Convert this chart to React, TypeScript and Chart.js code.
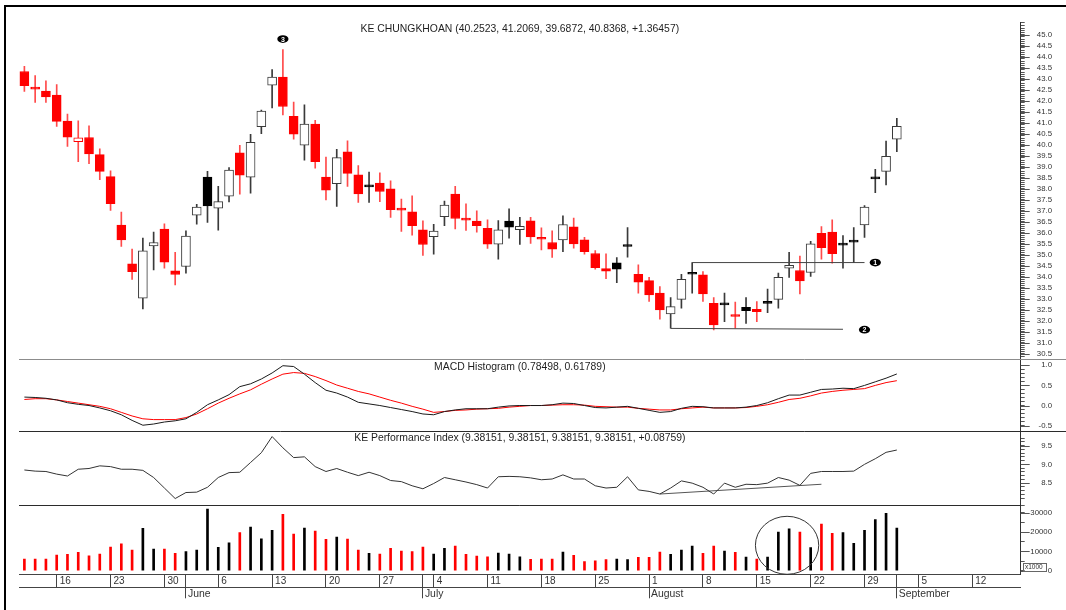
import React, { useEffect, useRef } from 'react';
import { Chart, registerables } from 'chart.js';

Chart.register(...registerables);

const FONT = '"Liberation Sans", Arial, Helvetica, sans-serif';
const RED = '#ff0000';

// ---- calendar (weekdays shown on the x axis) ----
const FIRST_DAY = '2011-05-11';
const LAST_DAY = '2011-09-16';
const MONTH_NAMES = ['January', 'February', 'March', 'April', 'May', 'June', 'July', 'August', 'September', 'October', 'November', 'December'];

// ---- price data (one value per trading day, 11 May .. 1 Sep 2011) ----
const opens = [
  43.33, 42.53, 42.44, 42.26, 41.08, 40.14, 40.33, 39.55, 38.55, 36.35,
  34.59, 33.03, 35.41, 36.17, 34.27, 34.47, 36.80, 38.53, 37.12, 37.67,
  39.64, 38.53, 40.82, 42.71, 43.08, 41.29, 39.98, 40.94, 38.53, 38.23,
  39.68, 38.64, 38.09, 38.26, 38.00, 37.03, 36.95, 36.14, 35.83, 36.73,
  37.76, 36.58, 36.53, 36.21, 35.48, 36.53, 36.14, 36.55, 35.71, 35.56,
  35.68, 36.27, 35.68, 35.06, 34.38, 34.64, 35.38, 34.12, 33.83, 33.26,
  32.32, 32.98, 34.12, 34.09, 32.80, 32.73, 32.20, 32.62, 32.53, 32.80,
  32.98, 34.39, 34.29, 34.20, 35.98, 36.03, 35.44, 35.58, 36.36, 38.45,
  38.79, 40.2523,
];
const highs = [
  43.56, 43.14, 42.91, 42.73, 41.39, 41.09, 40.86, 39.82, 38.82, 36.94,
  35.26, 35.76, 36.03, 36.41, 35.12, 36.09, 37.29, 38.79, 38.11, 38.97,
  39.97, 40.47, 41.58, 43.41, 44.32, 41.94, 41.82, 41.11, 39.44, 39.79,
  40.18, 39.06, 38.76, 38.73, 38.36, 37.53, 37.68, 36.55, 36.39, 37.44,
  38.11, 37.32, 37.00, 36.59, 36.56, 37.09, 36.71, 36.71, 36.23, 36.09,
  36.77, 36.67, 35.80, 35.20, 35.05, 34.88, 36.24, 34.55, 33.98, 33.56,
  33.06, 34.12, 34.65, 34.24, 33.06, 33.26, 32.85, 33.06, 32.88, 33.45,
  34.17, 35.12, 34.95, 35.61, 36.29, 36.59, 35.88, 36.24, 37.24, 38.89,
  40.17, 41.2069,
];
const lows = [
  42.42, 41.92, 41.92, 40.83, 39.92, 39.23, 39.14, 38.41, 37.02, 35.38,
  33.89, 32.55, 34.32, 34.39, 33.64, 34.17, 36.39, 36.47, 36.12, 37.41,
  37.76, 37.80, 40.50, 41.67, 41.36, 40.26, 39.30, 38.94, 37.50, 37.20,
  38.11, 37.38, 37.38, 37.42, 36.70, 36.06, 35.89, 34.97, 35.03, 36.33,
  36.18, 36.11, 36.03, 35.29, 34.80, 35.76, 35.47, 35.52, 35.23, 34.88,
  35.15, 35.30, 35.03, 34.35, 33.92, 33.74, 34.89, 33.26, 32.88, 32.08,
  31.67, 32.58, 33.26, 32.88, 31.59, 31.97, 31.67, 31.89, 31.97, 32.38,
  32.58, 33.98, 33.23, 34.02, 34.80, 34.62, 34.39, 34.65, 35.79, 37.83,
  38.18, 39.6872,
];
const closes = [
  42.68, 42.53, 42.17, 41.06, 40.35, 40.32, 39.59, 38.79, 37.33, 35.68,
  34.24, 35.18, 35.56, 34.67, 34.11, 35.85, 37.17, 37.22, 37.42, 38.85,
  38.62, 40.11, 41.53, 43.08, 41.74, 40.48, 40.94, 39.23, 37.94, 39.42,
  38.70, 37.77, 38.09, 37.88, 37.05, 37.03, 36.33, 35.47, 36.08, 37.26,
  36.65, 36.58, 36.33, 35.48, 36.14, 36.26, 36.30, 35.82, 35.71, 35.26,
  36.38, 35.50, 35.15, 34.42, 34.26, 34.35, 35.38, 33.76, 33.18, 32.50,
  32.65, 33.89, 34.12, 33.23, 31.82, 32.73, 32.20, 32.47, 32.42, 32.80,
  33.98, 34.53, 33.82, 35.50, 35.33, 35.05, 35.44, 35.58, 37.17, 38.45,
  39.47, 40.8368,
];
const volumes = [
  6000, 6000, 6000, 8100, 8450, 9500, 7750, 8600, 12240, 13960,
  10700, 21900, 11200, 11200, 8970, 9830, 10700, 31900, 12070, 14480,
  19660, 22590, 16550, 20860, 29140, 18970, 22070, 20520, 16210, 17410,
  16380, 10700, 8970, 8620, 11550, 10170, 9830, 12240, 8620, 11550,
  12760, 8450, 7590, 7240, 9140, 8620, 7240, 5860, 6030, 6030,
  9660, 7930, 4660, 5170, 5690, 6030, 5690, 6900, 6900, 9660,
  8450, 10700, 12760, 8970, 12760, 10170, 9480, 7070, 6030, 7070,
  20000, 21720, 20000, 11900, 24140, 19310, 19660, 14140, 20860, 26380,
  29660, 22070,
];
const macd = [
  0.21, 0.20, 0.18, 0.14, 0.07, 0.03, 0.00, -0.06, -0.13, -0.23,
  -0.37, -0.49, -0.46, -0.41, -0.38, -0.33, -0.17, 0.02, 0.14, 0.27,
  0.47, 0.54, 0.66, 0.81, 0.99, 0.97, 0.78, 0.57, 0.38, 0.31,
  0.21, 0.08, 0.04, 0.00, -0.05, -0.10, -0.15, -0.21, -0.23, -0.15,
  -0.11, -0.08, -0.08, -0.08, -0.04, -0.01, 0.00, 0.00, 0.00, 0.02,
  0.06, 0.05, 0.00, -0.05, -0.06, -0.04, -0.02, -0.07, -0.12, -0.17,
  -0.15, -0.07, -0.02, -0.03, -0.06, -0.06, -0.06, -0.04, 0.00, 0.07,
  0.17, 0.26, 0.26, 0.33, 0.40, 0.41, 0.43, 0.42, 0.50, 0.59,
  0.68, 0.78498,
];
const signal = [
  0.15, 0.17, 0.17, 0.14, 0.10, 0.06, 0.02, -0.02, -0.08, -0.17,
  -0.26, -0.33, -0.35, -0.35, -0.35, -0.30, -0.21, -0.08, 0.06, 0.18,
  0.29, 0.39, 0.53, 0.66, 0.78, 0.82, 0.80, 0.72, 0.62, 0.51,
  0.43, 0.35, 0.29, 0.21, 0.13, 0.06, -0.02, -0.09, -0.17, -0.15,
  -0.12, -0.11, -0.09, -0.08, -0.07, -0.04, -0.02, 0.00, 0.00, 0.01,
  0.02, 0.02, 0.01, -0.02, -0.03, -0.04, -0.04, -0.07, -0.09, -0.11,
  -0.11, -0.08, -0.06, -0.04, -0.06, -0.06, -0.06, -0.05, -0.02, 0.02,
  0.08, 0.15, 0.18, 0.24, 0.31, 0.35, 0.38, 0.40, 0.42, 0.50,
  0.57, 0.61789,
];
const perfIndex = [
  8.85, 8.82, 8.81, 8.74, 8.69, 8.87, 8.89, 8.96, 8.94, 8.87,
  8.87, 8.84, 8.65, 8.37, 8.09, 8.25, 8.26, 8.39, 8.65, 8.78,
  8.79, 9.05, 9.31, 9.74, 9.44, 9.18, 9.20, 8.94, 8.81, 8.89,
  8.79, 8.70, 8.79, 8.70, 8.57, 8.54, 8.43, 8.35, 8.49, 8.65,
  8.59, 8.53, 8.46, 8.37, 8.67, 8.68, 8.67, 8.64, 8.59, 8.61,
  8.72, 8.61, 8.61, 8.43, 8.37, 8.39, 8.67, 8.32, 8.28, 8.21,
  8.37, 8.56, 8.50, 8.39, 8.21, 8.50, 8.39, 8.47, 8.46, 8.50,
  8.65, 8.58, 8.44, 8.76, 8.81, 8.81, 8.81, 8.82, 9.00, 9.15,
  9.32, 9.38151,
];

// ---- drawn annotations: [day index, value] ----
const level1 = [[62, 34.65], [78, 34.65]];
const level2 = [[60, 31.66], [76, 31.62]];
const perfTrend = [[59, 8.21], [74, 8.47]];
const markers: [string, number, number][] = [['3', 24, 44.8], ['1', 79, 34.65], ['2', 78, 31.6]];
const volumeCircle = { x0: 67.87, x1: 73.75, v0: -1860, v1: 28140 };

// ---- texts ----
const PRICE_TITLE = 'KE CHUNGKHOAN (40.2523, 41.2069, 39.6872, 40.8368, +1.36457)';
const MACD_TITLE = 'MACD Histogram (0.78498, 0.61789)';
const PI_TITLE = 'KE Performance Index (9.38151, 9.38151, 9.38151, 9.38151, +0.08759)';

// ---- axis ranges / ticks ----
const PRICE_RANGE = [30.27, 45.545];
const MACD_RANGE = [-0.641, 1.157];
const PI_RANGE = [7.91, 9.88];
const VOL_RANGE = [-1860, 33830];
const VOL_TICKS = [0, 5000, 10000, 15000, 20000, 25000, 30000];

function buildDates(first: string, last: string) {
  const out: string[] = [];
  const d = new Date(first + 'T00:00:00Z');
  const end = new Date(last + 'T00:00:00Z');
  while (d <= end) {
    const wd = d.getUTCDay();
    if (wd !== 0 && wd !== 6) out.push(d.toISOString().slice(0, 10));
    d.setUTCDate(d.getUTCDate() + 1);
  }
  return out;
}
const dates = buildDates(FIRST_DAY, LAST_DAY);
const dayOf = (i: number) => Number(dates[i].slice(8, 10));
const monthOf = (i: number) => Number(dates[i].slice(5, 7));
const isMonday = (i: number) => new Date(dates[i] + 'T00:00:00Z').getUTCDay() === 1;
const isMonthStart = (i: number) => i > 0 && monthOf(i) !== monthOf(i - 1);

const isUp = closes.map((c, i) => i > 0 && c > closes[i - 1]);
const bodyFill = closes.map((c, i) => (c > opens[i] ? '#ffffff' : isUp[i] ? '#000000' : RED));
const bodyLine = closes.map((c, i) => (isUp[i] ? (c > opens[i] ? '#3a3a3a' : '#000000') : RED));
const wickColor = isUp.map((u) => (u ? '#3a3a3a' : '#ff4a4a'));
const volColor = isUp.map((u) => (u ? '#000000' : RED));

const pts = (arr: number[][]) => arr.map(([i, v]) => ({ x: dates[i], y: v }));
const isHalf = (v: number) => Math.abs(v * 2 - Math.round(v * 2)) < 1e-6;

const overlayPlugin = {
  id: 'overlay',
  afterDraw(chart: any) {
    const { ctx, chartArea: ca, scales } = chart;
    const { x, yP, yM, yI, yV } = scales;
    ctx.save();
    const hline = (x1: number, x2: number, y: number, color: string) => {
      const yy = Math.round(y) + 0.5;
      ctx.strokeStyle = color;
      ctx.lineWidth = 1;
      ctx.beginPath();
      ctx.moveTo(x1, yy);
      ctx.lineTo(x2, yy);
      ctx.stroke();
    };
    hline(ca.left, chart.width, yM.top, '#8c8c8c');
    hline(ca.left, chart.width, yI.top, '#2b2b2b');
    hline(ca.left, ca.right, yV.top, '#2b2b2b');

    // longer ticks at labelled values
    ctx.strokeStyle = '#555';
    for (const s of [yP, yM, yI, yV]) {
      for (const t of s.ticks) {
        if (!t.label) continue;
        const py = Math.round(s.getPixelForValue(t.value)) + 0.5;
        ctx.beginPath();
        ctx.moveTo(s.left, py);
        ctx.lineTo(s.left + 9, py);
        ctx.stroke();
      }
    }

    // panel titles
    ctx.fillStyle = '#1e1e1e';
    ctx.font = `10.4px ${FONT}`;
    ctx.textAlign = 'center';
    ctx.textBaseline = 'middle';
    const cx = (ca.left + ca.right) / 2;
    ctx.fillText(PRICE_TITLE, cx, yP.top + 6.6);
    ctx.fillText(MACD_TITLE, cx, yM.top + 8.3);
    ctx.fillText(PI_TITLE, cx, yI.top + 7);

    // numbered markers
    for (const [label, idx, val] of markers) {
      const px = x.getPixelForValue(idx);
      const py = yP.getPixelForValue(val);
      ctx.fillStyle = '#000';
      ctx.beginPath();
      ctx.ellipse(px, py, 5.6, 3.9, 0, 0, Math.PI * 2);
      ctx.fill();
      ctx.fillStyle = '#fff';
      ctx.font = `bold 7px ${FONT}`;
      ctx.fillText(label, px, py + 0.5);
    }

    // circle on the volume panel
    const ex0 = x.getPixelForValue(volumeCircle.x0);
    const ex1 = x.getPixelForValue(volumeCircle.x1);
    const ey0 = yV.getPixelForValue(volumeCircle.v1);
    const ey1 = yV.getPixelForValue(volumeCircle.v0);
    ctx.strokeStyle = '#333';
    ctx.lineWidth = 1;
    ctx.beginPath();
    ctx.ellipse((ex0 + ex1) / 2, (ey0 + ey1) / 2, (ex1 - ex0) / 2, (ey1 - ey0) / 2, 0, 0, Math.PI * 2);
    ctx.stroke();

    // x1000 unit box
    const by = Math.round(yV.bottom) - 10.5;
    ctx.strokeStyle = '#666';
    ctx.strokeRect(Math.round(yV.left) + 2.5, by, 23, 8);
    ctx.fillStyle = '#333';
    ctx.font = `6.5px ${FONT}`;
    ctx.textAlign = 'left';
    ctx.fillText('x1000', Math.round(yV.left) + 4, by + 4.2);
    ctx.restore();
  },
};

function yAxis(weight: number, stackWeight: number, range: number[], step: number, fmt: (v: number) => string, fixedTicks?: number[]) {
  return {
    type: 'linear',
    position: 'right',
    stack: 'panes',
    stackWeight,
    weight,
    min: range[0],
    max: range[1],
    grid: { display: true, drawOnChartArea: false, drawTicks: true, tickLength: 4, tickColor: '#555', tickWidth: 1 },
    border: { display: true, color: '#333', width: 1 },
    ticks: {
      stepSize: step,
      autoSkip: false,
      font: { size: 7.8, family: FONT },
      color: '#333',
      crossAlign: 'far',
      padding: 2,
      callback: (v: any) => fmt(Number(v)),
    },
    afterBuildTicks: fixedTicks
      ? (s: any) => {
          s.ticks = fixedTicks.map((v) => ({ value: v }));
        }
      : undefined,
    afterFit: (s: any) => {
      s.width = 31.3;
    },
  };
}

export default function App() {
  const ref = useRef<HTMLCanvasElement>(null);
  useEffect(() => {
    if (!ref.current) return;
    Chart.defaults.font.family = FONT;
    const chart = new Chart(ref.current, {
      type: 'bar',
      data: {
        labels: dates,
        datasets: [
          {
            type: 'bar',
            yAxisID: 'yP',
            data: lows.map((l, i) => [l, highs[i]]),
            backgroundColor: wickColor,
            borderWidth: 0,
            barThickness: 1,
            grouped: false,
            order: 6,
          } as any,
          {
            type: 'bar',
            yAxisID: 'yP',
            data: opens.map((o, i) => [o, closes[i]]),
            backgroundColor: bodyFill,
            borderColor: bodyLine,
            borderWidth: 1,
            borderSkipped: false,
            barThickness: 9,
            minBarLength: 2,
            grouped: false,
            order: 5,
          },
          {
            type: 'bar',
            yAxisID: 'yV',
            data: volumes,
            backgroundColor: volColor,
            borderWidth: 0,
            barThickness: 2,
            grouped: false,
            order: 5,
          },
          { type: 'line', yAxisID: 'yP', data: pts(level1), borderColor: '#444', borderWidth: 1, pointRadius: 0, order: 1 },
          { type: 'line', yAxisID: 'yP', data: pts(level2), borderColor: '#444', borderWidth: 1, pointRadius: 0, order: 1 },
          { type: 'line', yAxisID: 'yM', data: signal, borderColor: RED, borderWidth: 1, pointRadius: 0, order: 2 },
          { type: 'line', yAxisID: 'yM', data: macd, borderColor: '#1a1a1a', borderWidth: 1, pointRadius: 0, order: 1 },
          { type: 'line', yAxisID: 'yI', data: perfIndex, borderColor: '#333', borderWidth: 1, pointRadius: 0, order: 1 },
          { type: 'line', yAxisID: 'yI', data: pts(perfTrend), borderColor: '#555', borderWidth: 1, pointRadius: 0, order: 1 },
        ] as any,
      },
      options: {
        animation: false,
        responsive: false,
        maintainAspectRatio: false,
        devicePixelRatio: 1,
        events: [],
        layout: { padding: { left: 19, top: 22.7, right: 14, bottom: 0 } },
        plugins: { legend: { display: false }, tooltip: { enabled: false } },
        elements: { line: { tension: 0 } },
        scales: {
          x: {
            type: 'category',
            position: 'bottom',
            weight: 0,
            offset: true,
            grid: {
              display: true,
              offset: false,
              drawOnChartArea: false,
              drawTicks: true,
              tickLength: 13,
              tickWidth: 1,
              tickColor: (c: any) => (isMonday(c.index) || isMonthStart(c.index) ? '#444' : 'rgba(0,0,0,0)'),
            },
            border: { display: true, color: '#444' },
            ticks: {
              autoSkip: false,
              maxRotation: 0,
              minRotation: 0,
              align: 'start',
              labelOffset: 3,
              padding: -11.8,
              font: { size: 10, family: FONT },
              color: '#333',
              callback: (_v: any, i: number) => (isMonday(i) ? String(dayOf(i)) : ''),
            },
            afterFit: (s: any) => {
              s.height = 13;
            },
          },
          xm: {
            type: 'category',
            labels: dates,
            position: 'bottom',
            weight: 1,
            offset: true,
            grid: {
              display: true,
              offset: false,
              drawOnChartArea: false,
              drawTicks: true,
              tickLength: 11,
              tickWidth: 1,
              tickColor: (c: any) => (isMonthStart(c.index) ? '#444' : 'rgba(0,0,0,0)'),
            },
            border: { display: true, color: '#444' },
            ticks: {
              autoSkip: false,
              maxRotation: 0,
              minRotation: 0,
              align: 'start',
              labelOffset: 2,
              padding: -10.5,
              font: { size: 10.4, family: FONT },
              color: '#333',
              callback: (_v: any, i: number) => (isMonthStart(i) ? MONTH_NAMES[monthOf(i) - 1] : ''),
            },
            afterFit: (s: any) => {
              s.height = 22.7;
            },
          },
          yP: yAxis(1, 336.3, PRICE_RANGE, 0.1, (v) => (isHalf(v) ? v.toFixed(1) : '')),
          yM: yAxis(2, 72.3, MACD_RANGE, 0.1, (v) => (isHalf(v) ? v.toFixed(1) : '')),
          yI: yAxis(3, 74, PI_RANGE, 0.1, (v) => (isHalf(v) ? v.toFixed(1) : '')),
          yV: yAxis(
            4,
            69,
            VOL_RANGE,
            5000,
            (v) => (v >= 0 && Math.round(v) % 10000 === 0 ? String(Math.round(v)) : ''),
            VOL_TICKS
          ),
        } as any,
      },
      plugins: [overlayPlugin],
    });
    return () => chart.destroy();
  }, []);

  return (
    <div style={{ position: 'fixed', left: 0, top: 0, width: 1066, height: 610, background: '#fff', overflow: 'hidden' }}>
      <canvas ref={ref} width={1066} height={610} style={{ display: 'block', width: 1066, height: 610 }} />
      <div
        style={{
          position: 'absolute',
          left: 4,
          top: 5,
          right: 0,
          bottom: 0,
          borderTop: '2px solid #000',
          borderLeft: '2px solid #000',
          pointerEvents: 'none',
        }}
      />
    </div>
  );
}
